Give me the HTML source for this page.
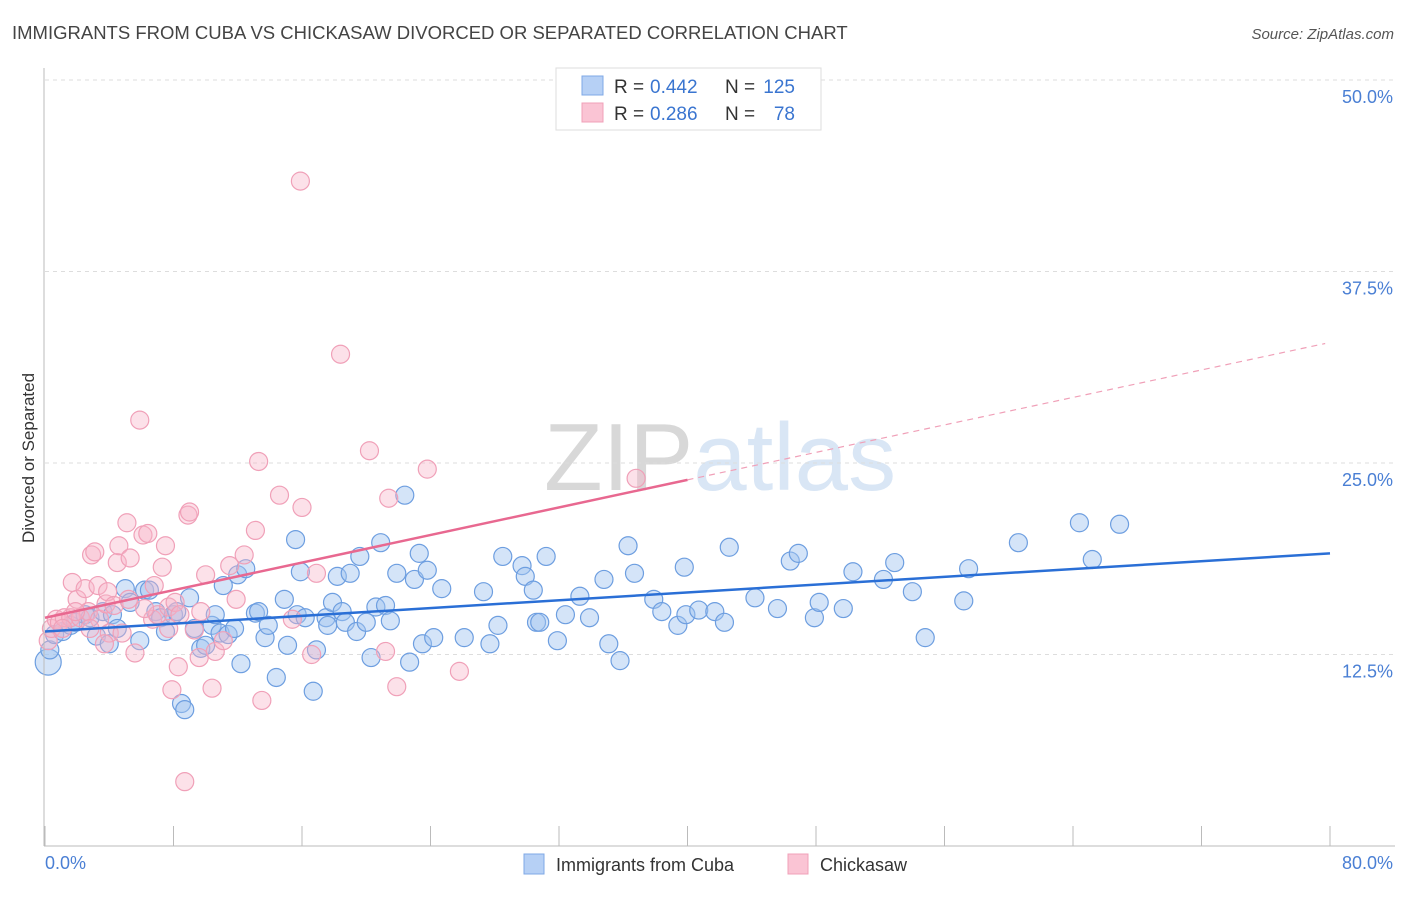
<!DOCTYPE html>
<html><head><meta charset="utf-8"><style>
body{margin:0;background:#fff;font-family:"Liberation Sans",sans-serif}
svg text{font-family:"Liberation Sans",sans-serif}
</style></head><body>
<svg id="c" width="1406" height="892" xmlns="http://www.w3.org/2000/svg">
<text x="12" y="39" font-size="18.5" fill="#444">IMMIGRANTS FROM CUBA VS CHICKASAW DIVORCED OR SEPARATED CORRELATION CHART</text>
<text x="1394" y="39" font-size="15" fill="#555" font-style="italic" text-anchor="end">Source: ZipAtlas.com</text>
<text x="720" y="490" font-size="96" fill="#e4e4e4" text-anchor="middle" font-family="Liberation Serif"><tspan fill="#d8d8d8">ZIP</tspan><tspan fill="#d9e6f5" font-family="Liberation Sans">atlas</tspan></text>
<g id="grid"></g><g id="pts"></g><g id="lines"></g>
<line x1="44" y1="68" x2="44" y2="846" stroke="#bbb"/>
<line x1="44" y1="846" x2="1395" y2="846" stroke="#bbb"/>
<text transform="translate(34,458) rotate(-90)" font-size="17" fill="#333" text-anchor="middle">Divorced or Separated</text>
<text x="45" y="869" font-size="18" fill="#4a7fd4">0.0%</text>
<text x="1393" y="869" font-size="18" fill="#4a7fd4" text-anchor="end">80.0%</text>
<g>
<rect x="556" y="68" width="265" height="62" fill="#fff" stroke="#ddd"/>
<rect x="582" y="76" width="21" height="19" fill="#b6d0f5" stroke="#7fa8e6"/>
<rect x="582" y="103" width="21" height="19" fill="#fac4d4" stroke="#f0a0b8"/>
<text x="614" y="93" font-size="19" fill="#333">R =</text>
<text x="650" y="93" font-size="19" fill="#3a75d0">0.442</text>
<text x="725" y="93" font-size="19" fill="#333">N =</text>
<text x="795" y="93" font-size="19" fill="#3a75d0" text-anchor="end">125</text>
<text x="614" y="120" font-size="19" fill="#333">R =</text>
<text x="650" y="120" font-size="19" fill="#3a75d0">0.286</text>
<text x="725" y="120" font-size="19" fill="#333">N =</text>
<text x="795" y="120" font-size="19" fill="#3a75d0" text-anchor="end">78</text>
</g>
<g>
<rect x="524" y="854" width="20" height="20" fill="#b6d0f5" stroke="#7fa8e6"/>
<text x="556" y="871" font-size="18" fill="#333">Immigrants from Cuba</text>
<rect x="788" y="854" width="20" height="20" fill="#fac4d4" stroke="#f0a0b8"/>
<text x="820" y="871" font-size="18" fill="#333">Chickasaw</text>
</g>
</svg>
<script>
const yTicks=[12.5,25,37.5,50];
const xTicks=[0,8,16,24,32,40,48,56,64,72,80];
const cubaX=[0.2,0.3,0.6,1.1,1.6,1.9,2.5,2.8,3.2,3.6,4.0,4.2,4.5,5.0,5.3,5.9,6.2,6.5,6.9,7.2,7.5,8.0,8.2,8.5,8.7,9.0,9.3,9.7,10.0,10.4,10.6,10.9,11.1,11.4,11.8,12.0,12.2,12.5,13.1,13.3,13.7,13.9,14.4,14.9,15.1,15.6,15.7,15.9,16.2,16.7,16.9,17.5,17.6,17.9,18.2,18.5,18.7,19.0,19.4,19.6,20.0,20.3,20.6,20.9,21.2,21.5,21.9,22.4,22.7,23.0,23.3,23.5,23.8,24.2,24.7,26.1,27.3,27.7,28.2,28.5,29.7,29.9,30.4,30.6,30.8,31.2,31.9,32.4,33.3,33.9,34.8,35.1,35.8,36.3,36.7,37.9,38.4,39.4,39.8,39.9,40.7,41.7,42.3,42.6,44.2,45.6,46.4,46.9,47.9,48.2,49.7,50.3,52.2,52.9,54.0,54.8,57.2,57.5,60.6,64.4,65.2,66.9];
const cubaY=[12.0,12.8,13.8,14.0,14.4,14.6,15.1,14.9,13.7,15.3,13.2,15.1,14.2,16.8,15.9,13.4,16.7,16.7,15.3,14.9,14.0,15.1,15.3,9.3,8.9,16.2,14.2,12.9,13.1,14.4,15.1,13.9,17.0,13.8,14.2,17.7,11.9,18.1,15.2,15.3,13.6,14.4,11.0,16.1,13.1,20.0,15.1,17.9,14.9,10.1,12.8,14.9,14.4,15.9,17.6,15.3,14.6,17.8,14.0,18.9,14.6,12.3,15.6,19.8,15.7,14.7,17.8,22.9,12.0,17.4,19.1,13.2,18.0,13.6,16.8,13.6,16.6,13.2,14.4,18.9,18.3,17.6,16.7,14.6,14.6,18.9,13.4,15.1,16.3,14.9,17.4,13.2,12.1,19.6,17.8,16.1,15.3,14.4,18.2,15.1,15.4,15.3,14.6,19.5,16.2,15.5,18.6,19.1,14.9,15.9,15.5,17.9,17.4,18.5,16.6,13.6,16.0,18.1,19.8,21.1,18.7,21.0];
const chickX=[0.2,0.4,0.7,0.9,1.2,1.6,1.7,2.0,2.2,2.5,2.7,2.9,3.1,3.3,3.4,3.8,3.9,4.0,4.3,4.5,4.6,4.8,5.1,5.3,5.6,5.9,6.1,6.4,6.7,6.8,7.0,7.3,7.5,7.7,7.9,8.1,8.3,8.4,8.7,8.9,9.0,9.3,9.6,10.0,10.4,10.6,11.1,11.5,11.9,12.4,13.1,13.3,13.5,14.6,15.4,15.9,16.0,16.6,16.9,18.4,20.2,21.2,21.4,21.9,23.8,25.8,36.8,1.1,1.9,2.8,3.7,5.2,6.2,7.7,9.7];
const chickY=[13.4,14.2,14.8,14.6,14.9,14.9,17.2,16.1,14.9,16.8,15.3,19.0,19.2,17.0,14.8,15.8,16.6,13.9,15.7,18.5,19.6,13.9,21.1,18.8,12.6,27.8,20.3,20.4,14.8,17.0,15.1,18.2,19.6,15.6,10.2,15.9,11.7,15.1,4.2,21.6,21.8,14.1,12.3,17.7,10.3,12.7,13.4,18.3,16.1,19.0,20.6,25.1,9.5,22.9,14.8,43.4,22.1,12.5,17.8,32.1,25.8,12.7,22.7,10.4,24.6,11.4,24.0,14.2,15.3,14.2,13.2,16.1,15.5,14.2,15.3];
const cubaLine=[14.0,19.1];
const chickLine=[14.9,23.9,32.8];
const chickLineX=[0,40,79.7];
const NS='http://www.w3.org/2000/svg';
const sx=v=>45+v*1285/80;
const sy=v=>846-v*191.5/12.5;
function mk(t,a,p){const e=document.createElementNS(NS,t);for(const k in a)e.setAttribute(k,a[k]);p.appendChild(e);return e;}
const grid=document.getElementById('grid'),pts=document.getElementById('pts'),lines=document.getElementById('lines'),svg=document.getElementById('c');
yTicks.forEach(t=>{
 const l=mk('line',{x1:45,x2:1395,y1:sy(t),y2:sy(t),stroke:'#ddd','stroke-dasharray':'4,4'},grid);
 
 
 const tx=mk('text',{x:1393,y:sy(t)+23,'font-size':18,fill:'#4a7fd4','text-anchor':'end'},svg);
 tx.textContent=t.toFixed(1)+'%';
 
 
});
xTicks.forEach(t=>{
 const l=mk('line',{x1:sx(t),x2:sx(t),y1:826,y2:846,stroke:'#bbb'},svg);
 
 
});
cubaX.forEach((x,i)=>{
 const c=mk('circle',{cx:sx(x),cy:sy(cubaY[i]),r:i===0?13:9,fill:'rgba(160,196,240,0.45)',stroke:'#6d9ee0','stroke-width':1.2},pts);
 
 
});
chickX.forEach((x,i)=>{
 const c=mk('circle',{cx:sx(x),cy:sy(chickY[i]),r:9,fill:'rgba(248,180,200,0.4)',stroke:'#f0a0b8','stroke-width':1.2},pts);
 
 
});
const bl=mk('line',{x1:sx(0),y1:sy(cubaLine[0]),x2:sx(80),y2:sy(cubaLine[1]),stroke:'#2a6fd6','stroke-width':2.5},lines);


const pl=mk('line',{x1:sx(chickLineX[0]),y1:sy(chickLine[0]),x2:sx(chickLineX[1]),y2:sy(chickLine[1]),stroke:'#e86890','stroke-width':2.5},lines);


const pd=mk('line',{x1:sx(chickLineX[1]),y1:sy(chickLine[1]),x2:sx(chickLineX[2]),y2:sy(chickLine[2]),stroke:'#f0a0b8','stroke-width':1.2,'stroke-dasharray':'6,5'},lines);


</script>
</body></html>
